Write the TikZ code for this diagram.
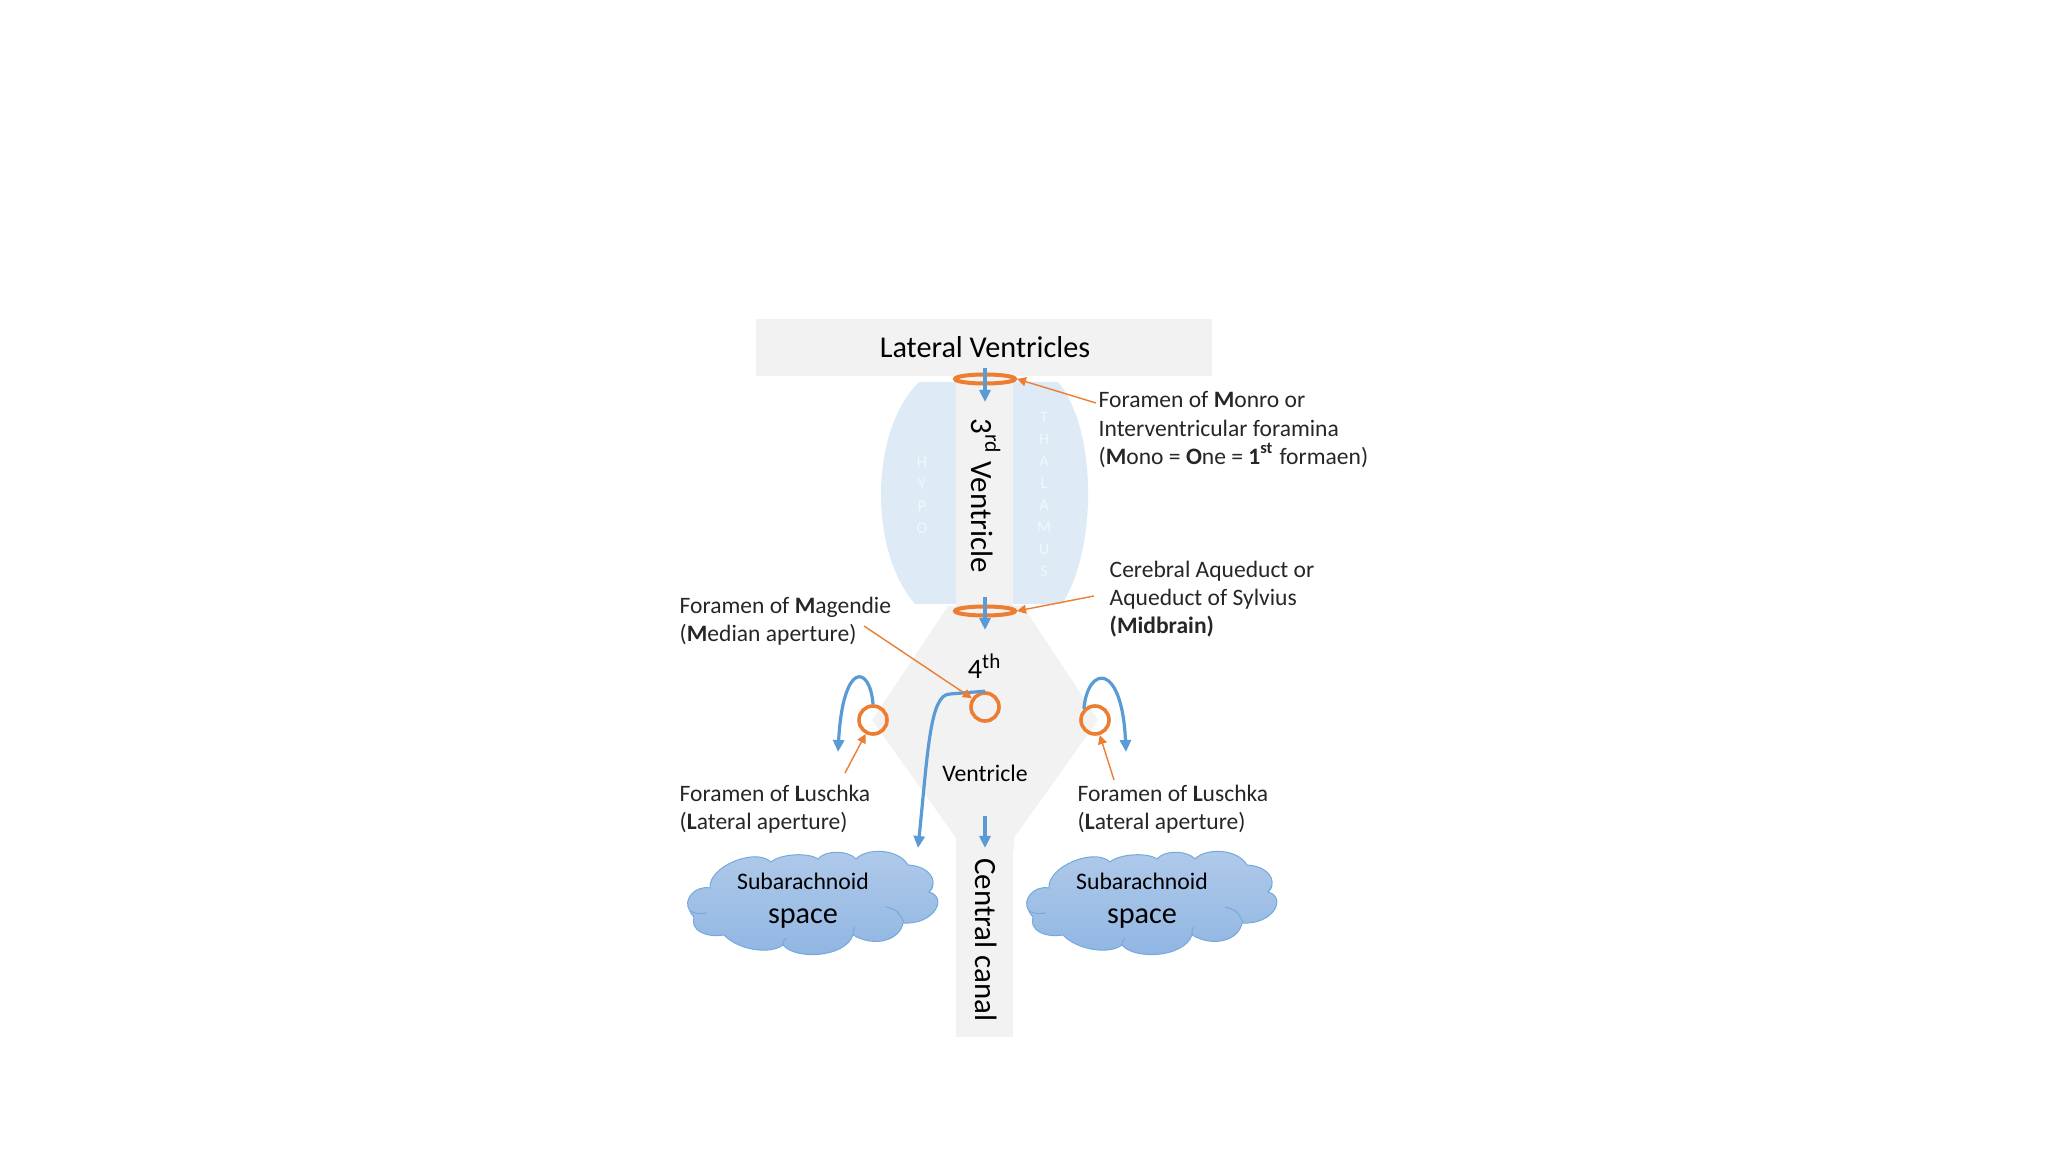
\documentclass[tikz,border=0pt]{standalone}
\usepackage{fontspec}
\setmainfont{Carlito}
\usepackage{xcolor}
\definecolor{ventGray}{HTML}{F2F2F2}
\definecolor{thalBlue}{HTML}{DEEAF6}
\definecolor{flowBlue}{HTML}{5B9BD5}
\definecolor{ringOrange}{HTML}{ED7D31}
\definecolor{cloudTop}{HTML}{B0CAEA}
\definecolor{cloudBottom}{HTML}{8FB5E2}
\usetikzlibrary{shapes.geometric, arrows.meta, positioning}

\tikzset{
    flowArrow/.style={-{Triangle[length=1.2mm,width=1.1mm]}, flowBlue, line width=0.32mm},
    leader/.style={-{Triangle[length=0.9mm,width=0.9mm]}, ringOrange, line width=0.14mm},
    ring/.style={circle, draw=ringOrange, line width=0.36mm, minimum size=2.8mm, inner sep=0pt},
    flatRing/.style={ellipse, draw=ringOrange, line width=0.4mm, minimum width=6mm, minimum height=0.9mm, inner sep=0pt},
    label/.style={font=\fontsize{6.7}{8.05}\selectfont, align=left, anchor=north west, inner sep=0pt, text=black!85},
    ghost/.style={font=\fontsize{4.6}{6.25}\selectfont, align=center, text=white!60!thalBlue, inner sep=0pt},
    pics/subcloud/.style={code={
        \draw[flowBlue!85, line width=0.1mm, top color=cloudTop, bottom color=cloudBottom]
            (710,888) .. controls (708,867) and (755,847) .. (771,862)
            .. controls (780,854) and (808,852) .. (818,859)
            .. controls (825,850) and (848,850) .. (856,859)
            .. controls (866,848) and (898,848) .. (908,865)
            .. controls (928,866) and (940,880) .. (929,892)
            .. controls (948,897) and (935,925) .. (903,923)
            .. controls (900,940) and (875,948) .. (853,935)
            .. controls (845,958) and (795,960) .. (783,945)
            .. controls (770,955) and (738,950) .. (724,935)
            .. controls (705,938) and (690,930) .. (694,917)
            .. controls (692,915) .. (690,911)
            .. controls (682,900) and (695,885) .. (710,888) -- cycle;
        \draw[flowBlue!85, line width=0.1mm] (886,907) .. controls (897,910) .. (904,922);
        \draw[flowBlue!85, line width=0.1mm] (690,911) .. controls (697,914) .. (707,913);
        \draw[flowBlue!85, line width=0.1mm] (929,892) .. controls (932,889) .. (933,885);
        \draw[flowBlue!85, line width=0.1mm] (853,935) .. controls (853,930) .. (855,927);
        \draw[flowBlue!85, line width=0.1mm] (783,945) .. controls (783,942) .. (786,938);
    }},
}

\begin{document}
\begin{tikzpicture}[x=0.1mm, y=-0.1mm]
    \useasboundingbox (0,0) rectangle (2048,1152);

    % Thalamus
    \fill[thalBlue] (919,382) .. controls (870,430) and (868,550) .. (915,604) -- (1062,604)
        .. controls (1097,550) and (1098,430) .. (1058,382) -- cycle;

    % Ventricles
    \fill[ventGray] (756,319) rectangle (1212,376);
    \fill[ventGray] (948,606) -- (1023,606) -- (1098,720) -- (1014,838) -- (1014,850) -- (956,850) -- (956,838) -- (872,720) -- cycle;
    \fill[ventGray] (956,376) rectangle (1013,1037);

    % Text of the ventricles
    \node[font=\fontsize{8.6}{10}\selectfont] (lateral) at (985,347) {Lateral Ventricles};
    \node[font=\fontsize{8.8}{10}\selectfont, rotate=-90] (third) at (986,496) {3\textsuperscript{rd} Ventricle};
    \node[font=\fontsize{8.8}{10}\selectfont, rotate=-90] (canal) at (986,940) {Central canal};
    \node[font=\fontsize{8}{10}\selectfont] (fourth) at (985,666) {4\textsuperscript{th}};
    \node[font=\fontsize{6.75}{8}\selectfont] (fourthB) at (985,773) {Ventricle};
    \node[ghost] (hypo) at (922,495) {H\\Y\\P\\O};
    \node[ghost] (thal) at (1044,494) {T\\H\\A\\L\\A\\M\\U\\S};

    % Clouds
    \pic at (0,0) {subcloud};
    \pic at (339,0) {subcloud};
    \node[font=\fontsize{6.75}{8}\selectfont] (subL) at (803,881) {Subarachnoid};
    \node[font=\fontsize{8.6}{10}\selectfont] (spaceL) at (803,919) {space};
    \node[font=\fontsize{6.75}{8}\selectfont] (subR) at (1142,881) {Subarachnoid};
    \node[font=\fontsize{8.6}{10}\selectfont] (spaceR) at (1142,919) {space};

    % Foramina
    \node[flatRing] (monro) at (985,379) {};
    \node[flatRing] (aqueduct) at (985,611) {};
    \node[ring] (magendie) at (985,707) {};
    \node[ring] (luschkaL) at (873,720) {};
    \node[ring] (luschkaR) at (1095,720) {};

    % Flow
    \coordinate (flowA) at (985,368);
    \coordinate (flowAend) at (985,402);
    \coordinate (flowB) at (985,597);
    \coordinate (flowBend) at (985,630);
    \coordinate (flowC) at (985,816);
    \coordinate (flowCend) at (985,848);
    \coordinate (flowM) at (918,848);
    \coordinate (flowL) at (838,752);
    \coordinate (flowR) at (1126,752);
    \draw[flowArrow] (flowA) -- (flowAend);
    \draw[flowArrow] (flowB) -- (flowBend);
    \draw[flowArrow] (flowC) -- (flowCend);
    \draw[flowArrow] (magendie.north) -- (950,694) .. controls (930,694) and (928,750) .. (flowM);
    \draw[flowArrow] (luschkaL.north) .. controls (870,665) and (843,660) .. (flowL);
    \draw[flowArrow] (luschkaR.north west) .. controls (1088,665) and (1122,662) .. (flowR);

    % Labels
    \node[label] (monroTxt) at (1098,391) {Foramen of \textbf{M}onro or\\Interventricular foramina\\(\textbf{M}ono = \textbf{O}ne = \textbf{1\textsuperscript{st}} formaen)};
    \node[label] (aqTxt) at (1109,560) {Cerebral Aqueduct or\\Aqueduct of Sylvius\\\textbf{(Midbrain)}};
    \node[label] (magTxt) at (679,596) {Foramen of \textbf{M}agendie\\(\textbf{M}edian aperture)};
    \node[label] (lusLTxt) at (679,784) {Foramen of \textbf{L}uschka\\(\textbf{L}ateral aperture)};
    \node[label] (lusRTxt) at (1077,784) {Foramen of \textbf{L}uschka\\(\textbf{L}ateral aperture)};

    % Leaders
    \coordinate (monroFree) at (1096,403);
    \coordinate (aqFree) at (1094,596);
    \coordinate (magFree) at (864,626);
    \coordinate (lusLFree) at (845,773);
    \coordinate (lusRFree) at (1114,780);
    \draw[leader] (monroFree) -- (monro.east);
    \draw[leader] (aqFree) -- (aqueduct.east);
    \draw[leader] (magFree) -- (magendie);
    \draw[leader] (lusLFree) -- (luschkaL);
    \draw[leader] (lusRFree) -- (luschkaR);
\end{tikzpicture}
\end{document}
